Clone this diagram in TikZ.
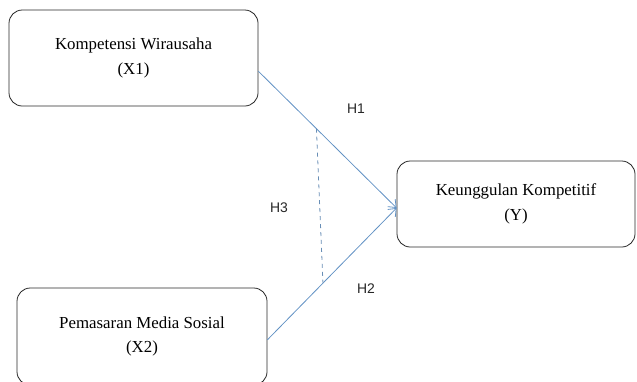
\documentclass[tikz,border=0pt]{standalone}
\usepackage{fontspec}
\setmainfont{Liberation Serif}
\newfontfamily\labelfont{Liberation Sans}
\usetikzlibrary{calc,arrows.meta}
\definecolor{linkblue}{RGB}{98,146,196}
\definecolor{boxgray}{RGB}{40,40,40}
\tikzset{
  varbox/.style={draw=boxgray, rounded corners=10pt, line width=0.6pt, align=center,
    font=\fontsize{12.7}{18.75}\selectfont},
  link/.style={draw=linkblue, line width=0.6pt, -{Straight Barb[length=5pt,width=8pt]}},
  hyp/.style={font=\labelfont\fontsize{10.5}{12}\selectfont, text=black!85}
}
\begin{document}
\begin{tikzpicture}[x=0.0265cm, y=-0.0265cm]
\useasboundingbox (0,0) rectangle (637,381);
\node[varbox, minimum width=249*0.0265cm, minimum height=96*0.0265cm] (x1) at (133.5,58) {Kompetensi Wirausaha\\(X1)};
\node[varbox, minimum width=250*0.0265cm, minimum height=97*0.0265cm] (x2) at (142,336.5) {Pemasaran Media Sosial\\(X2)};
\node[varbox, minimum width=238*0.0265cm, minimum height=86*0.0265cm] (y) at (516,204) {Keunggulan Kompetitif\\(Y)};
\coordinate (s1) at ([yshift=-10pt]x1.east);
\coordinate (s2) at ([yshift=-2.5pt]x2.east);
\coordinate (t) at ([yshift=-3pt]y.west);
\draw[link] (s1) -- (t);
\draw[link] (s2) -- (t);
\draw[draw=linkblue!80!gray, line width=0.6pt, dashed] ($(s1)!0.42!(t)$) -- ($(s2)!0.43!(t)$);
\node[hyp] (h1) at (356,109) {H1};
\node[hyp] (h2) at (366,289) {H2};
\node[hyp] (h3) at (279,208) {H3};
\end{tikzpicture}
\end{document}
